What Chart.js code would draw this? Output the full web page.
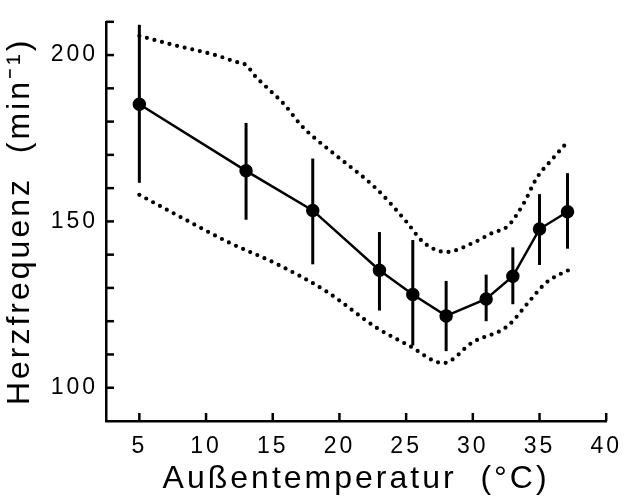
<!DOCTYPE html>
<html>
<head>
<meta charset="utf-8">
<script src="https://cdn.jsdelivr.net/npm/chart.js@4/dist/chart.umd.min.js"></script>
<style>
  html, body { margin: 0; padding: 0; background: #fff; }
  #wrap { width: 631px; height: 498px; }
</style>
</head>
<body>
<div id="wrap"><canvas id="chart" width="631" height="498"></canvas></div>
<script>
// Außentemperatur (°C) der Messpunkte
const temps = [5, 13, 18, 23, 25.5, 28, 31, 33, 35, 37.1];
// Mittelwerte Herzfrequenz
const heartRate = [185.2, 165.2, 153.3, 135.3, 128, 121.6, 126.7, 133.5, 147.7, 152.9];
// Fehlerbalken (unten / oben)
const errLow  = [161.6, 150.5, 137.1, 123.2, 112.7, 111.0, 120.0, 125.1, 136.9, 141.8];
const errHigh = [209.1, 179.6, 168.9, 146.8, 144.4, 132.1, 134.0, 142.2, 158.2, 164.5];

// obere gepunktete Grenze
const upperX = [5, 7.3, 10.7, 12.2, 13, 13.7, 14.7, 15.9, 17.1, 18.1, 19.6, 22.8, 25, 26.3, 28, 30.1, 31.5, 32.6, 33.8, 34.8, 36, 36.9];
const upperY = [205.8, 203.3, 200, 198, 197, 193.6, 189.7, 185, 179, 175.2, 170.3, 159.7, 150, 143.7, 140.8, 143.7, 146.6, 148.5, 155.3, 163.1, 168.9, 173];
// untere gepunktete Grenze
const lowerX = [5, 8, 11.7, 15.4, 19, 22.8, 25.2, 27.8, 30, 32.6, 34.3, 35.5, 37.5];
const lowerY = [158, 151.5, 143.7, 137, 129, 118, 112.7, 107.4, 113.7, 118.5, 126.3, 131.6, 136];

// Achsenteilung
const xTicks = [5, 10, 15, 20, 25, 30, 35, 40];
const yTicks = [100, 110, 120, 130, 140, 150, 160, 170, 180, 190, 200, 210];
const yTickLabels = [100, 150, 200];

const FONT = "'Liberation Sans', Arial, Helvetica, sans-serif";

function pts(xs, ys) {
    return xs.map((x, i) => ({ x: x, y: ys[i] }));
}

// Fehlerbalken und nach innen zeigende Teilstriche
const extras = {
    id: 'extras',
    beforeDraw(chart) {
        chart.ctx.letterSpacing = '3px';
    },
    beforeDatasetsDraw(chart) {
        const ctx = chart.ctx;
        const x = chart.scales.x, y = chart.scales.y;
        ctx.save();
        ctx.strokeStyle = '#000';
        ctx.lineWidth = 3;
        ctx.lineCap = 'butt';
        temps.forEach((t, i) => {
            const px = x.getPixelForValue(t);
            ctx.beginPath();
            ctx.moveTo(px, y.getPixelForValue(errLow[i]));
            ctx.lineTo(px, y.getPixelForValue(errHigh[i]));
            ctx.stroke();
        });
        ctx.restore();
    },
    afterDraw(chart) {
        const ctx = chart.ctx;
        const area = chart.chartArea;
        const x = chart.scales.x, y = chart.scales.y;
        ctx.save();
        ctx.strokeStyle = '#000';
        ctx.lineWidth = 2.5;
        yTicks.forEach(v => {
            const py = y.getPixelForValue(v);
            ctx.beginPath();
            ctx.moveTo(area.left, py);
            ctx.lineTo(area.left + 8, py);
            ctx.stroke();
        });
        xTicks.forEach(v => {
            const px = x.getPixelForValue(v);
            ctx.beginPath();
            ctx.moveTo(px, area.bottom);
            ctx.lineTo(px, area.bottom - 8);
            ctx.stroke();
        });
        ctx.restore();
    }
};

new Chart(document.getElementById('chart').getContext('2d'), {
    type: 'scatter',
    data: {
        datasets: [
            {
                data: pts(temps, heartRate),
                showLine: true,
                borderColor: '#000',
                borderWidth: 2.5,
                pointRadius: 5.5,
                pointBackgroundColor: '#000',
                pointBorderColor: '#000'
            },
            {
                data: pts(upperX, upperY),
                showLine: true,
                borderColor: '#000',
                borderWidth: 4.2,
                borderDash: [0, 7.8],
                borderCapStyle: 'round',
                cubicInterpolationMode: 'monotone',
                pointRadius: 0
            },
            {
                data: pts(lowerX, lowerY),
                showLine: true,
                borderColor: '#000',
                borderWidth: 4.2,
                borderDash: [0, 7.8],
                borderCapStyle: 'round',
                cubicInterpolationMode: 'monotone',
                pointRadius: 0
            }
        ]
    },
    options: {
        responsive: false,
        animation: false,
        layout: { padding: { top: 8, right: 17, left: 0, bottom: 0 } },
        plugins: {
            legend: { display: false },
            tooltip: { enabled: false }
        },
        scales: {
            x: {
                type: 'linear',
                min: 2.5,
                max: 40,
                afterBuildTicks: s => { s.ticks = xTicks.map(v => ({ value: v })); },
                afterFit: s => { s.height = 77; },
                grid: { display: false, drawTicks: false },
                border: { display: true, color: '#000', width: 2.5 },
                ticks: {
                    color: '#000',
                    padding: 12,
                    maxRotation: 0,
                    font: { family: FONT, size: 23 }
                },
                title: {
                    display: true,
                    text: 'Außentemperatur  (°C)',
                    color: '#000',
                    padding: { top: 0, bottom: 0 },
                    font: { family: FONT, size: 32 }
                }
            },
            y: {
                min: 90,
                max: 210,
                afterBuildTicks: s => { s.ticks = yTicks.map(v => ({ value: v })); },
                afterFit: s => { s.width = 106; },
                grid: { display: false, drawTicks: false },
                border: { display: true, color: '#000', width: 2.5 },
                ticks: {
                    color: '#000',
                    padding: 8,
                    font: { family: FONT, size: 23 },
                    callback: v => yTickLabels.includes(v) ? String(v) : null
                },
                title: {
                    display: true,
                    text: 'Herzfrequenz  (min⁻¹)',
                    color: '#000',
                    padding: { top: 1, bottom: 0 },
                    font: { family: FONT, size: 32 }
                }
            }
        }
    },
    plugins: [extras]
});
</script>
</body>
</html>
